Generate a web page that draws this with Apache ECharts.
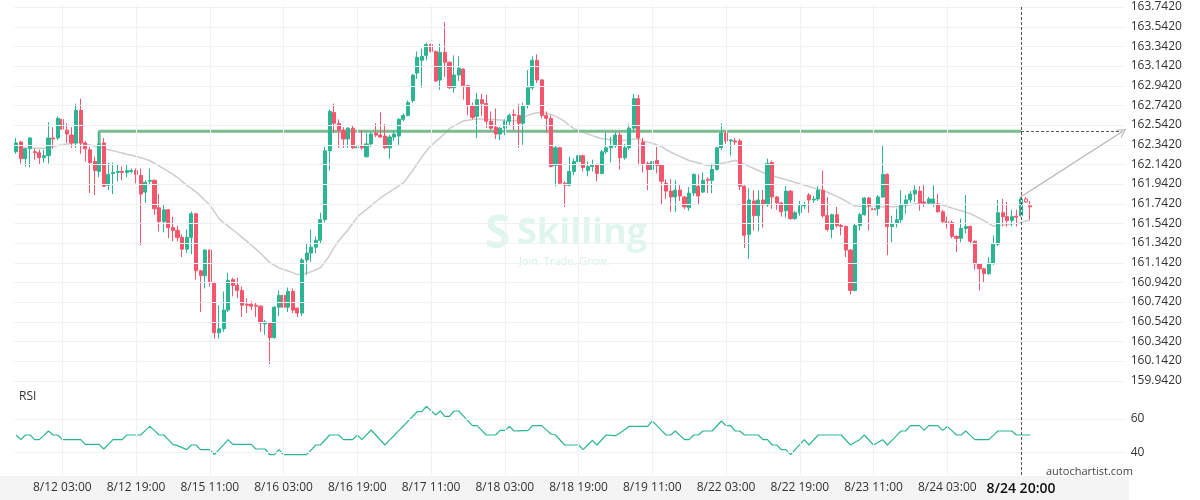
<!DOCTYPE html>
<html><head><meta charset="utf-8">
<script src="https://cdn.jsdelivr.net/npm/echarts@6/dist/echarts.min.js"></script>
<style>html,body{margin:0;padding:0;background:#fff}#c{width:1200px;height:500px}</style>
</head><body><div id="c"></div>
<script>
// [open, close, low, high] hourly candles
const ohlc = [
[162.27,162.36,162.25,162.41],[162.37,162.20,162.15,162.38],[162.20,162.30,162.12,162.31],[162.30,162.41,162.11,162.42],
[162.27,162.26,162.19,162.30],[162.26,162.21,162.14,162.29],[162.21,162.23,162.16,162.29],[162.23,162.41,162.15,162.57],
[162.41,162.40,162.30,162.52],[162.41,162.61,162.39,162.63],[162.60,162.50,162.47,162.63],[162.49,162.45,162.36,162.56],
[162.44,162.36,162.31,162.52],[162.36,162.69,162.31,162.76],[162.69,162.36,162.25,162.81],[162.36,162.30,162.17,162.38],
[162.29,162.16,161.85,162.32],[162.17,162.08,161.83,162.22],[162.07,162.35,162.01,162.47],[162.36,161.92,161.91,162.41],
[161.93,162.04,161.88,162.16],[162.05,162.06,161.84,162.16],[162.06,162.07,161.97,162.14],[162.07,162.06,161.98,162.12],
[162.06,162.08,162.01,162.14],[162.07,162.08,162.05,162.10],[162.08,162.04,161.95,162.10],[162.03,161.84,161.32,162.10],
[161.86,161.96,161.75,161.98],[161.97,161.98,161.93,162.10],[161.98,161.69,161.63,161.99],[161.70,161.56,161.46,161.84],
[161.56,161.68,161.45,161.73],[161.68,161.50,161.39,161.69],[161.50,161.47,161.36,161.61],[161.47,161.40,161.36,161.52],
[161.40,161.28,161.20,161.43],[161.28,161.40,161.24,161.48],[161.40,161.64,161.23,161.66],[161.64,161.06,160.97,161.65],
[161.06,161.01,160.64,161.07],[161.01,161.27,160.88,161.28],[161.27,160.95,160.90,161.28],[160.94,160.43,160.37,160.95],
[160.43,160.47,160.37,160.71],[160.47,160.66,160.44,160.85],[160.66,160.96,160.64,161.04],[160.97,160.91,160.80,160.99],
[160.91,160.86,160.78,160.99],[160.86,160.71,160.59,160.90],[160.72,160.71,160.63,160.78],[160.72,160.70,160.66,160.75],
[160.71,160.70,160.59,160.74],[160.70,160.53,160.44,160.71],[160.52,160.54,160.41,160.56],[160.53,160.38,160.11,160.53],
[160.38,160.69,160.37,160.70],[160.69,160.81,160.60,160.86],[160.81,160.69,160.61,160.88],[160.69,160.85,160.64,160.89],
[160.85,160.66,160.63,160.88],[160.68,160.63,160.59,160.69],[160.63,161.17,160.60,161.19],[161.17,161.24,161.02,161.34],
[161.24,161.30,161.15,161.48],[161.30,161.37,161.24,161.41],[161.37,161.58,161.34,161.65],[161.58,162.28,161.55,162.32],
[162.28,162.68,162.08,162.70],[162.67,162.56,162.46,162.76],[162.56,162.49,162.31,162.60],[162.49,162.40,162.31,162.52],
[162.40,162.51,162.31,162.52],[162.51,162.31,162.30,162.54],[162.31,162.32,162.17,162.34],[162.33,162.31,162.29,162.49],
[162.22,162.35,162.21,162.46],[162.35,162.45,162.32,162.47],[162.46,162.44,162.42,162.56],[162.44,162.42,162.41,162.67],
[162.43,162.31,162.30,162.55],[162.31,162.42,162.20,162.44],[162.42,162.45,162.38,162.48],[162.43,162.60,162.34,162.61],
[162.60,162.64,162.58,162.66],[162.64,162.77,162.63,162.79],[162.79,163.05,162.77,163.06],[163.07,163.23,163.01,163.29],
[163.20,163.24,162.92,163.32],[163.25,163.36,163.20,163.38],[163.36,163.29,163.28,163.37],[163.29,162.99,162.98,163.30],
[163.00,163.28,162.90,163.37],[163.28,163.18,163.03,163.59],[163.18,162.92,162.91,163.19],[162.92,163.05,162.87,163.25],
[163.05,163.12,162.99,163.24],[163.11,162.94,162.80,163.12],[162.94,162.74,162.64,162.95],[162.74,162.62,162.60,162.77],
[162.63,162.80,162.41,162.87],[162.80,162.76,162.63,162.86],[162.76,162.58,162.51,162.85],[162.58,162.51,162.49,162.68],
[162.52,162.45,162.40,162.71],[162.45,162.51,162.39,162.52],[162.51,162.58,162.44,162.60],[162.58,162.64,162.54,162.66],
[162.65,162.64,162.49,162.70],[162.64,162.56,162.31,162.76],[162.56,162.74,162.34,162.77],[162.75,162.92,162.71,163.10],
[162.92,163.20,162.90,163.24],[163.20,163.00,162.97,163.26],[163.00,162.64,162.61,163.01],[162.64,162.61,162.46,162.68],
[162.61,162.12,162.11,162.64],[162.13,162.31,161.92,162.34],[162.31,161.95,161.93,162.32],[161.95,161.93,161.71,161.97],
[161.93,162.07,161.92,162.22],[162.07,162.17,162.03,162.20],[162.17,162.23,162.14,162.30],[162.23,162.11,162.07,162.24],
[162.08,162.12,162.02,162.17],[162.12,162.14,162.07,162.19],[162.14,162.05,161.97,162.15],[162.05,162.27,162.04,162.29],
[162.27,162.31,162.25,162.47],[162.31,162.33,162.16,162.42],[162.33,162.44,162.31,162.47],[162.44,162.21,162.09,162.47],
[162.21,162.31,162.19,162.35],[162.31,162.51,162.29,162.55],[162.51,162.81,162.47,162.86],[162.81,162.41,162.13,162.85],
[162.37,162.15,162.06,162.41],[162.15,162.09,161.88,162.17],[162.09,162.17,161.94,162.22],[162.18,162.13,162.05,162.32],
[162.13,161.97,161.73,162.14],[161.95,161.87,161.79,161.99],[161.87,161.81,161.66,161.99],[161.81,161.88,161.66,161.98],
[161.88,161.82,161.77,161.93],[161.81,161.71,161.69,161.82],[161.70,161.85,161.67,161.91],[161.85,162.04,161.82,162.05],
[161.92,161.82,161.73,162.04],[161.86,161.98,161.85,162.06],[161.99,161.98,161.85,162.01],[161.98,162.09,161.85,162.15],
[162.09,162.31,162.08,162.32],[162.31,162.46,162.29,162.56],[162.46,162.38,162.35,162.48],[162.38,162.39,162.23,162.40],
[162.38,162.37,162.34,162.41],[162.38,161.92,161.88,162.40],[161.92,161.42,161.29,161.93],[161.43,161.78,161.18,161.90],
[161.77,161.62,161.47,161.88],[161.62,161.78,161.46,161.88],[161.78,161.73,161.50,161.88],[161.73,162.15,161.71,162.20],
[162.16,161.81,161.69,162.18],[161.81,161.75,161.68,161.82],[161.75,161.66,161.61,161.76],[161.67,161.87,161.60,161.92],
[161.87,161.59,161.58,161.88],[161.59,161.65,161.58,161.67],[161.65,161.72,161.62,161.77],[161.72,161.73,161.69,161.76],
[161.83,161.78,161.65,161.85],[161.78,161.79,161.75,161.82],[161.79,161.88,161.77,161.92],[161.88,161.62,161.60,162.08],
[161.62,161.48,161.46,161.81],[161.48,161.63,161.39,161.64],[161.63,161.52,161.50,161.71],[161.52,161.51,161.42,161.54],
[161.51,161.27,161.20,161.52],[161.27,160.86,160.82,161.28],[160.86,161.52,160.85,161.54],[161.52,161.63,161.47,161.65],
[161.63,161.80,161.62,161.81],[161.80,161.72,161.47,161.81],[161.69,161.68,161.62,161.83],[161.69,161.81,161.62,161.83],
[161.81,162.04,161.80,162.33],[162.04,161.51,161.22,162.05],[161.51,161.54,161.35,161.62],[161.54,161.58,161.50,161.69],
[161.58,161.73,161.55,161.88],[161.73,161.78,161.64,161.83],[161.78,161.84,161.75,161.87],[161.84,161.88,161.76,161.93],
[161.87,161.75,161.67,161.92],[161.76,161.75,161.71,161.93],[161.75,161.79,161.74,161.81],[161.75,161.79,161.71,161.93],
[161.74,161.66,161.65,161.84],[161.66,161.56,161.54,161.68],[161.56,161.55,161.49,161.61],[161.55,161.41,161.39,161.57],
[161.41,161.39,161.25,161.42],[161.39,161.49,161.35,161.59],[161.49,161.51,161.44,161.83],[161.51,161.36,161.33,161.52],
[161.36,161.13,161.07,161.37],[161.13,161.08,160.86,161.14],[161.08,161.03,160.94,161.09],[161.03,161.14,161.02,161.20],
[161.14,161.33,161.12,161.42],[161.33,161.65,161.31,161.78],[161.65,161.61,161.52,161.79],[161.61,161.57,161.51,161.76],
[161.57,161.61,161.51,161.68],[161.615,161.605,161.51,161.68],[161.62,161.79,161.61,161.81],[161.79,161.76,161.75,161.81],
[161.72,161.71,161.58,161.77]
];
const ma = [
162.314,162.313,162.311,162.309,162.308,162.306,162.306,162.313,162.321,162.333,
162.342,162.349,162.355,162.361,162.362,162.355,162.339,162.327,162.317,162.304,
162.291,162.280,162.269,162.257,162.245,162.234,162.222,162.210,162.196,162.179,
162.153,162.126,162.099,162.070,162.041,162.008,161.969,161.928,161.898,161.863,
161.819,161.774,161.731,161.661,161.590,161.549,161.514,161.477,161.439,161.400,
161.361,161.322,161.280,161.238,161.191,161.143,161.117,161.091,161.073,161.058,
161.041,161.021,161.025,161.034,161.051,161.070,161.091,161.150,161.217,161.300,
161.367,161.421,161.477,161.541,161.605,161.647,161.685,161.722,161.762,161.800,
161.831,161.862,161.893,161.923,161.953,162.015,162.077,162.146,162.218,162.280,
162.333,162.373,162.412,162.459,162.505,162.534,162.558,162.583,162.590,162.597,
162.603,162.602,162.601,162.599,162.597,162.594,162.591,162.587,162.585,162.591,
162.613,162.640,162.656,162.666,162.667,162.658,162.649,162.630,162.607,162.579,
162.540,162.505,162.487,162.470,162.452,162.434,162.417,162.404,162.397,162.391,
162.383,162.384,162.386,162.389,162.401,162.400,162.383,162.368,162.356,162.340,
162.322,162.293,162.268,162.243,162.223,162.202,162.181,162.168,162.156,162.143,
162.131,162.130,162.139,162.150,162.161,162.172,162.183,162.169,162.145,162.121,
162.100,162.079,162.059,162.041,162.027,162.013,162.000,161.986,161.973,161.958,
161.945,161.931,161.917,161.902,161.888,161.875,161.859,161.838,161.817,161.795,
161.769,161.743,161.718,161.715,161.712,161.711,161.711,161.711,161.711,161.711,
161.711,161.711,161.714,161.722,161.731,161.739,161.743,161.745,161.744,161.742,
161.740,161.729,161.713,161.698,161.684,161.670,161.656,161.641,161.618,161.593,
161.569,161.540,161.515,161.519,161.522,161.527,161.535,161.542,161.552,161.564,
161.576
];
const rsi = [
50.4,47.6,50.4,50.4,47.6,47.6,50.2,52.8,50.4,50.4,
47.6,47.6,47.6,47.6,47.6,44.8,44.8,44.8,44.8,42.0,
44.8,47.6,47.6,47.6,50.4,50.4,50.4,50.4,53.0,55.6,
53.0,50.4,50.4,47.6,44.8,44.0,42.8,41.6,44.4,44.4,
41.6,41.6,41.6,38.6,41.6,44.6,47.6,44.8,44.8,44.8,
44.8,44.8,42.0,42.0,42.0,38.6,38.6,41.6,38.6,38.6,
38.6,38.6,38.6,38.6,41.5,44.4,44.4,47.4,50.4,50.4,
50.4,47.6,47.6,47.6,50.4,47.6,50.5,53.4,50.4,47.4,
44.4,47.3,50.1,53.0,55.8,58.7,61.5,64.4,64.4,67.6,
65.0,62.4,64.8,61.6,61.6,64.8,64.8,61.9,58.9,56.0,
56.0,53.2,50.4,50.4,50.4,53.2,53.2,55.6,52.8,52.9,
53.0,53.0,56.0,56.0,56.0,53.5,51.0,50.4,47.4,44.4,
44.4,44.4,44.4,41.6,44.4,47.2,44.4,47.4,50.4,50.2,
50.0,51.6,53.6,55.6,55.6,55.6,55.6,55.6,58.8,56.0,
53.2,50.4,50.4,52.8,50.2,47.6,47.6,50.4,50.4,52.8,
52.8,52.8,55.8,58.8,56.0,56.0,52.8,52.8,50.4,50.4,
50.4,50.4,47.6,47.6,44.4,44.4,41.6,41.6,38.6,41.6,
44.6,47.6,44.4,47.4,50.4,50.4,50.4,50.4,50.4,50.4,
47.4,44.4,46.0,47.6,50.4,47.4,44.4,46.0,47.6,44.4,
47.2,50.0,52.8,52.8,56.0,56.0,56.0,53.2,56.0,56.0,
56.0,53.2,55.6,53.0,50.4,50.4,52.8,50.2,47.6,47.6,
47.6,47.6,50.2,52.8,52.8,52.8,52.8,50.4,50.4,50.4,
50.4
];
const priceTicks = [159.942,160.142,160.342,160.542,160.742,160.942,161.142,161.342,161.542,161.742,
  161.942,162.142,162.342,162.542,162.742,162.942,163.142,163.342,163.542,163.742];
const rsiTicks = [40, 60];
const tickIndex = [10,26,42,58,74,90,106,122,138,154,170,186,202,218];
const tickLabels = ['8/12 03:00','8/12 19:00','8/15 11:00','8/16 03:00','8/16 19:00','8/17 11:00','8/18 03:00',
  '8/18 19:00','8/19 11:00','8/22 03:00','8/22 19:00','8/23 11:00','8/24 03:00','8/24 20:00'];
const currentIndex = 218;
const hollowIndex = 219;
const levelPrice = 162.478;
const levelStart = [18, 162.34];
const projectionFrom = [218, 161.813];
const projectionTo = [240, 162.476];
const emptySlots = 20;

const UP = '#2bb592', DOWN = '#f5566c', GRID = '#eef1f5';
const categories = [];
for (let i = 0; i < ohlc.length + emptySlots; i++) categories.push(String(i));
const lastSlot = categories.length - 1;

const candleData = ohlc.map((d, i) => i === hollowIndex
  ? { value: d, itemStyle: { color0: '#ffffff', borderColor0: DOWN } } : d);

const chart = echarts.init(document.getElementById('c'), null, { renderer: 'canvas' });
const gridLine = { color: GRID, width: 1, type: 'solid' };
chart.setOption({
  animation: false,
  textStyle: { fontFamily: 'Open Sans, Noto Sans, sans-serif' },
  grid: [
    { left: 13.9, right: 75.3, top: 5, height: 380 },
    { left: 13.9, right: 75.3, top: 385, height: 90 }
  ],
  xAxis: [
    { type: 'category', gridIndex: 0, data: categories, boundaryGap: true,
      axisLine: { show: false }, axisTick: { show: false }, axisLabel: { show: false }, splitLine: { show: false } },
    { type: 'category', gridIndex: 1, data: categories, boundaryGap: true,
      axisLine: { show: false }, axisTick: { show: false }, splitLine: { show: false },
      axisLabel: {
        interval: (idx) => tickIndex.indexOf(idx) >= 0,
        margin: 7,
        fontSize: 12, color: '#333',
        formatter: (v, idx) => {
          const k = tickIndex.indexOf(Number(v));
          if (k < 0) return '';
          return tickIndex[k] === currentIndex ? '{cur|' + tickLabels[k] + '}' : tickLabels[k];
        },
        rich: { cur: { fontSize: 14, color: '#111', fontWeight: 600, fontFamily: 'Open Sans' } }
      } }
  ],
  yAxis: [
    { type: 'value', gridIndex: 0, position: 'right', min: 159.8986, max: 163.7623, scale: true,
      axisLine: { show: false }, axisTick: { show: false }, splitLine: { show: false },
      axisLabel: { customValues: priceTicks, formatter: v => v.toFixed(4), color: '#333', fontSize: 12, margin: 6,
        showMinLabel: true, showMaxLabel: true } },
    { type: 'value', gridIndex: 1, position: 'right', min: 26.4, max: 80.4,
      axisLine: { show: false }, axisTick: { show: false }, splitLine: { show: false },
      axisLabel: { customValues: rsiTicks, color: '#333', fontSize: 12, margin: 6 } }
  ],
  title: { text: 'RSI', left: 14, top: 386, textStyle: { fontSize: 12, fontWeight: 'normal', color: '#333' } },
  graphic: [
    { type: 'rect', z: -10, silent: true, shape: { x: 0, y: 476, width: 1129, height: 24 }, style: { fill: '#f4f4f4' } },
    { type: 'text', silent: true, left: 1046, top: 466, style: { text: 'autochartist.com', fontSize: 11, fill: '#444', fontFamily: 'Open Sans' } },
    { type: 'group', silent: true, left: 485, top: 212, children: [
      { type: 'text', style: { text: 'S', x: 0, y: 0, fontSize: 46, fontWeight: 'bold', fill: 'rgba(60,190,140,0.16)', fontFamily: 'Open Sans' } },
      { type: 'text', style: { text: 'Skilling', x: 32, y: 4, fontSize: 36, fontWeight: 'bold', fill: 'rgba(60,190,140,0.16)', fontFamily: 'Open Sans' } },
      { type: 'text', style: { text: 'Join. Trade. Grow.', x: 34, y: 44, fontSize: 11, fill: 'rgba(60,190,140,0.22)', fontFamily: 'Open Sans' } }
    ] }
  ],
  series: [
    { type: 'line', xAxisIndex: 0, yAxisIndex: 0, data: ma, showSymbol: false, symbol: 'none', z: 1,
      lineStyle: { color: '#cdcdcd', width: 1.5 }, silent: true,
      markLine: { silent: true, symbol: 'none', label: { show: false }, animation: false,
        data: priceTicks.map(v => ({ yAxis: v, lineStyle: gridLine }))
          .concat(tickIndex.map(i => ({ xAxis: i, lineStyle: gridLine }))) } },
    { type: 'line', xAxisIndex: 0, yAxisIndex: 0, z: 2, silent: true, showSymbol: false, symbol: 'none',
      data: [levelStart, [levelStart[0], levelPrice], [currentIndex, levelPrice]],
      lineStyle: { color: '#7dbb91', width: 3 } },
    { type: 'candlestick', xAxisIndex: 0, yAxisIndex: 0, data: candleData, barWidth: '78%', z: 3, silent: true,
      itemStyle: { color: UP, color0: DOWN, borderColor: UP, borderColor0: DOWN, borderWidth: 1 },
      markLine: { silent: true, symbol: 'none', label: { show: false }, animation: false,
        data: [
          { xAxis: currentIndex, lineStyle: { color: '#555', width: 1, type: [3, 2] } },
          [ { coord: [currentIndex, levelPrice] }, { coord: [lastSlot, levelPrice], lineStyle: { color: '#555', width: 1, type: [3, 2] } } ],
          [ { coord: projectionFrom, symbol: 'none' },
            { coord: projectionTo, symbol: 'path://M0,10 L5,0 L10,10 L8.8,10 L5,2.4 L1.2,10 Z', symbolSize: [10, 9],
              lineStyle: { color: '#b5b5b5', width: 1.3, type: 'solid' } } ]
        ] } },
    { type: 'line', xAxisIndex: 1, yAxisIndex: 1, data: rsi, showSymbol: false, symbol: 'none', z: 3, silent: true,
      lineStyle: { color: UP, width: 1.2 },
      markLine: { silent: true, symbol: 'none', label: { show: false }, animation: false,
        data: rsiTicks.map(v => ({ yAxis: v, lineStyle: gridLine }))
          .concat(tickIndex.map(i => ({ xAxis: i, lineStyle: gridLine })))
          .concat([{ xAxis: currentIndex, lineStyle: { color: '#555', width: 1, type: [3, 2] } }]) } }
  ]
});
</script>
</body></html>
